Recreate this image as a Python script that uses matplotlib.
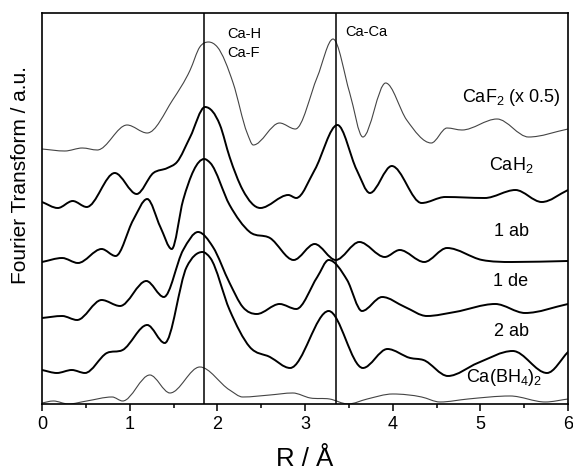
import numpy as np
import matplotlib
matplotlib.use('Agg')
import matplotlib.pyplot as plt
from matplotlib.path import Path
from matplotlib.patches import PathPatch

plt.rcParams['font.family'] = 'Liberation Sans'
plt.rcParams['mathtext.fontset'] = 'custom'
plt.rcParams['mathtext.rm'] = 'Liberation Sans'
plt.rcParams['mathtext.it'] = 'Liberation Sans'

# R values (Angstrom) and offset magnitudes
rCaF2 = [0.00, 0.26, 0.46, 0.63, 0.97, 1.20, 1.49, 1.69, 1.80, 1.90, 2.00, 2.18, 2.34, 2.41, 2.71, 2.89,
         3.14, 3.32, 3.51, 3.66, 3.92, 4.16, 4.44, 4.62, 4.79, 5.19, 5.55, 6.00]
ftCaF2 = [255, 253, 256, 254, 279, 271, 304, 334, 357, 362, 357, 321, 271, 259, 281, 275,
          327, 365, 311, 267, 321, 284, 261, 276, 274, 285, 267, 275]

rCaH2 = [0.00, 0.18, 0.35, 0.51, 0.83, 1.08, 1.27, 1.43, 1.54, 1.69, 1.86, 2.03, 2.14, 2.29, 2.49, 2.81,
         2.90, 3.11, 3.37, 3.59, 3.74, 3.99, 4.33, 4.60, 5.05, 5.40, 5.70, 6.00]
ftCaH2 = [202, 196, 203, 197, 231, 210, 231, 236, 242, 267, 297, 279, 247, 214, 196, 209,
          206, 234, 279, 234, 211, 238, 201, 207, 206, 214, 202, 214]

r1ab = [0.00, 0.23, 0.41, 0.68, 0.84, 1.04, 1.20, 1.35, 1.48, 1.61, 1.85, 1.92, 2.14, 2.37, 2.60, 2.87,
        3.11, 3.35, 3.62, 3.91, 4.08, 4.36, 4.62, 5.02, 5.36, 6.00]
ft1ab = [142, 146, 141, 155, 148, 184, 205, 177, 155, 204, 245, 241, 199, 172, 166, 144,
         160, 144, 162, 147, 154, 142, 156, 144, 142, 143]

r1de = [0.00, 0.23, 0.40, 0.68, 0.89, 1.19, 1.39, 1.61, 1.78, 1.95, 2.14, 2.29, 2.45, 2.71, 2.90, 3.14,
        3.27, 3.48, 3.65, 3.88, 4.14, 4.39, 4.71, 5.17, 5.51, 6.00]
ft1de = [86, 88, 84, 104, 98, 123, 107, 154, 172, 157, 121, 97, 90, 100, 95, 127,
         144, 124, 93, 107, 97, 88, 92, 100, 91, 100]

r2ab = [0.00, 0.17, 0.34, 0.49, 0.74, 0.92, 1.20, 1.40, 1.65, 1.83, 1.92, 2.14, 2.37, 2.60, 2.83, 3.27,
        3.66, 3.94, 4.20, 4.35, 4.63, 4.97, 5.37, 5.76, 6.00]
ft2ab = [34, 31, 34, 31, 51, 54, 79, 61, 137, 152, 146, 94, 57, 47, 36, 93,
         36, 55, 46, 44, 28, 41, 53, 31, 52]

rCaBH4 = [0.00, 0.13, 0.30, 0.51, 0.80, 0.92, 1.23, 1.46, 1.80, 2.14, 2.29, 2.60, 2.86, 3.06, 3.28, 3.49,
          3.71, 4.00, 4.33, 4.54, 4.86, 5.34, 5.74, 6.00]
ftCaBH4 = [1, 3, 0, 3, 7, 3, 29, 11, 37, 14, 7, 9, 11, 6, 5, 0,
           5, 10, 7, 2, 5, 8, 2, 5]

curveLabels = ['CaF$_2$ (x 0.5)', 'CaH$_2$', '1 ab', '1 de', '2 ab', 'Ca(BH$_4$)$_2$']
labelPos = [(5.35, 307), (5.35, 239), (5.35, 172), (5.35, 122), (5.35, 72), (5.27, 26)]
bondLines = [1.85, 3.35]


def smoothPath(x, y):
    """Piecewise cubic through the read points (flat at read extrema), as bezier segments"""
    x = np.asarray(x, float)
    y = np.asarray(y, float)
    h = np.diff(x)
    d = np.diff(y) / h
    m = np.zeros_like(y)
    m[0] = d[0]
    m[-1] = d[-1]
    for i in range(1, len(x) - 1):
        if d[i - 1] * d[i] > 0:
            m[i] = (h[i - 1] * d[i] + h[i] * d[i - 1]) / (h[i - 1] + h[i])
    verts = [(x[0], y[0])]
    codes = [Path.MOVETO]
    for i in range(len(h)):
        verts += [(x[i] + h[i] / 3, y[i] + m[i] * h[i] / 3),
                  (x[i + 1] - h[i] / 3, y[i + 1] - m[i + 1] * h[i] / 3),
                  (x[i + 1], y[i + 1])]
        codes += [Path.CURVE4] * 3
    return Path(verts, codes)


fig = plt.figure(figsize=(5.73, 4.73), dpi=100)
ax = fig.add_axes([0.0733, 0.1459, 0.918, 0.8266])

curves = [(rCaF2, ftCaF2, 0.8, '#444444'), (rCaH2, ftCaH2, 1.4, 'black'), (r1ab, ft1ab, 1.4, 'black'),
          (r1de, ft1de, 1.4, 'black'), (r2ab, ft2ab, 1.4, 'black'), (rCaBH4, ftCaBH4, 0.8, '#444444')]
for r, ft, lw, col in curves:
    ax.add_patch(PathPatch(smoothPath(r, ft), fill=False, lw=lw, edgecolor=col, capstyle='round'))

for xb in bondLines:
    ax.axvline(xb, color='black', lw=1.1)

for lab, (xl, yl) in zip(curveLabels, labelPos):
    ax.text(xl, yl, lab, ha='center', va='center', fontsize=13)

ax.text(2.11, 370, 'Ca-H', ha='left', va='center', fontsize=10.5)
ax.text(2.11, 351, 'Ca-F', ha='left', va='center', fontsize=10.5)
ax.text(3.46, 372, 'Ca-Ca', ha='left', va='center', fontsize=10.5)

ax.set_xlim(0, 6)
ax.set_ylim(0, 391)
ax.set_xticks(range(0, 7))
ax.set_xticks(np.arange(0.5, 6, 1), minor=True)
ax.set_yticks([])
ax.tick_params(axis='x', which='major', direction='out', length=5, width=1.1, labelsize=13, pad=4)
ax.tick_params(axis='x', which='minor', direction='out', length=3, width=1.1)
for sp in ax.spines.values():
    sp.set_linewidth(1.2)

ax.set_xlabel('R / Å', fontsize=18.5, labelpad=10)
ax.set_ylabel('Fourier Transform / a.u.', fontsize=15)
ax.yaxis.set_label_coords(-0.022, 0.586)

fig.savefig('out.png', dpi=100)
